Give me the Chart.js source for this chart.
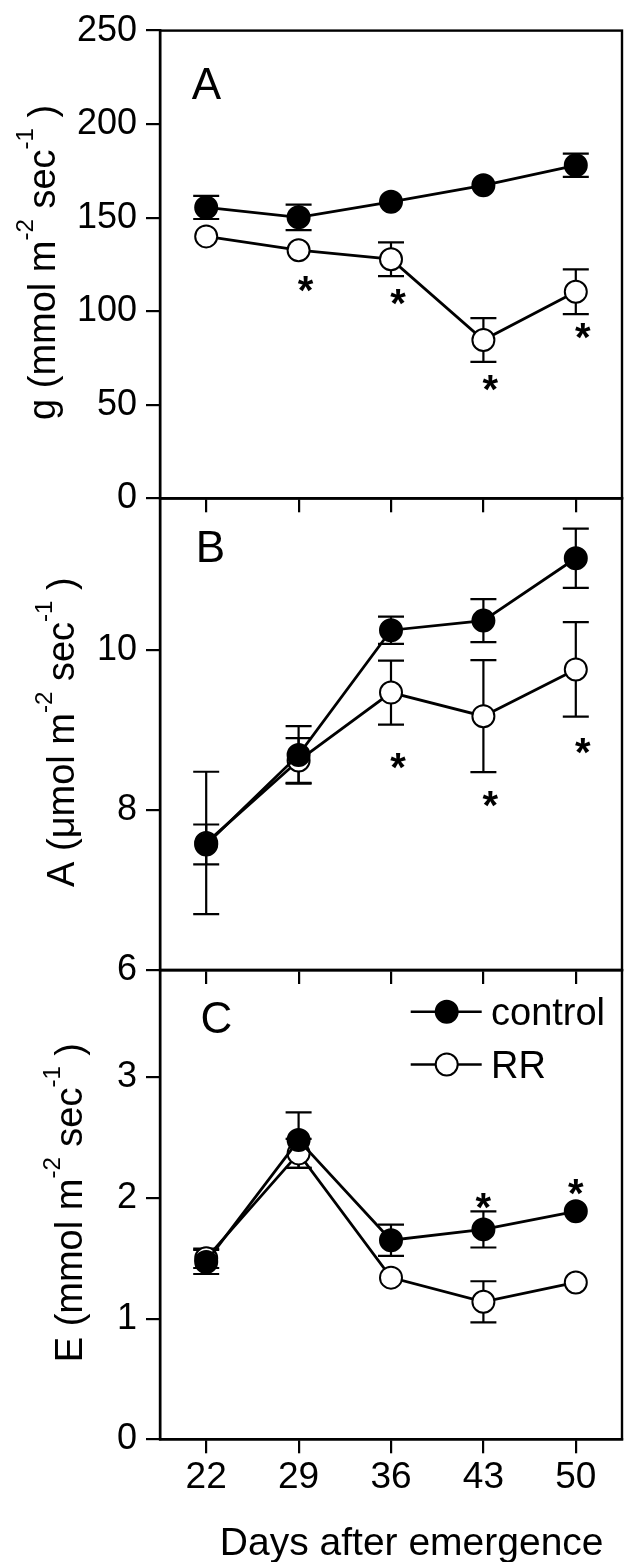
<!DOCTYPE html>
<html><head><meta charset="utf-8">
<script src="https://cdn.jsdelivr.net/npm/chart.js@4.4.0/dist/chart.umd.min.js"></script>
<style>
html,body{margin:0;padding:0;background:#fff;}
#wrap{position:relative;width:635px;height:1562px;background:#fff;}
canvas{position:absolute;left:0;top:0;}
</style></head><body>
<div id="wrap">
<canvas id="cA" width="635" height="1562"></canvas>
<canvas id="cB" width="635" height="1562"></canvas>
<canvas id="cC" width="635" height="1562"></canvas>
</div>
<script>
// ---------- data ----------
const days = [22, 29, 36, 43, 50];
const seriesNames = ['control', 'RR'];
const xTitle = 'Days after emergence';

// Panel A: stomatal conductance g
const gControl    = [155.5, 150.2, 158.5, 167.3, 178.0];
const gControlErr = [6.2, 6.8, 0, 0, 6.2];
const gRR         = [140.0, 132.6, 127.8, 84.6, 110.4];
const gRRErr      = [0, 0, 9.0, 11.7, 12.0];
const gSig        = [null, 115, 108, 62, 90];
const gTicks      = [0, 50, 100, 150, 200, 250];

// Panel B: assimilation A
const aControl    = [7.57, 8.69, 10.25, 10.37, 11.15];
const aControlErr = [0.25, 0.36, 0.17, 0.27, 0.37];
const aRR         = [7.59, 8.62, 9.47, 9.175, 9.76];
const aRRErr      = [0.89, 0.28, 0.40, 0.70, 0.59];
const aSig        = [null, null, 8.63, 8.15, 8.81];
const aTicks      = [6, 8, 10];

// Panel C: transpiration E
const eControl    = [1.47, 2.48, 1.65, 1.74, 1.89];
const eControlErr = [0.10, 0.23, 0.13, 0.15, 0];
const eRR         = [1.50, 2.37, 1.34, 1.14, 1.30];
const eRRErr      = [0.08, 0.12, 0, 0.17, 0];
const eSig        = [null, null, null, 1.98, 2.10];
const eTicks      = [0, 1, 2, 3];

// ---------- layout / style ----------
const FONT = '"Liberation Sans", Arial, Helvetica, sans-serif';
const W = 635, H = 1562, PLOT_L = 160, PLOT_R = 631, TICK = 14, CAP = 13, PR = 11;

const panels = [
  { id:'cA', letter:'A', letterX:191.7, letterDy:68.3, top:26.7, bottom:498.3, min:0, max:250, ticks:gTicks,
    ctrl:gControl, ctrlErr:gControlErr, rr:gRR, rrErr:gRRErr, sig:gSig, sigDx:7, showX:false, xh:TICK,
    titleX:55, title:[['g (mmol m',0],['-2',1],[' sec',0],['-1',1],[' )',0]] },
  { id:'cB', letter:'B', letterX:195.8, letterDy:63.4, top:498.3, bottom:970, min:6, max:11.9, ticks:aTicks,
    ctrl:aControl, ctrlErr:aControlErr, rr:aRR, rrErr:aRRErr, sig:aSig, sigDx:7, showX:false, xh:TICK,
    titleX:74, title:[['A (\u03BCmol m',0],['-2',1],[' sec',0],['-1',1],[' )',0]] },
  { id:'cC', letter:'C', letterX:200.6, letterDy:62.5, top:970, bottom:1439.3, min:0, max:3.89, ticks:eTicks,
    ctrl:eControl, ctrlErr:eControlErr, rr:eRR, rrErr:eRRErr, sig:eSig, sigDx:0, showX:true, xh:80, legend:true,
    titleX:82, title:[['E (mmol m',0],['-2',1],[' sec',0],['-1',1],[' )',0]] }
];

function drawCircle(ctx, x, y, filled) {
  ctx.beginPath(); ctx.arc(x, y, PR, 0, Math.PI*2);
  ctx.fillStyle = filled ? '#000' : '#fff'; ctx.fill();
  ctx.lineWidth = 2; ctx.strokeStyle = '#000'; ctx.stroke();
}

function makeDecor(p) {
  return {
    id: 'decor' + p.letter,
    beforeDatasetsDraw(chart) {
      const { ctx, scales: { x, y } } = chart;
      ctx.save();
      ctx.strokeStyle = '#000'; ctx.lineWidth = 2.2;
      [[p.ctrl, p.ctrlErr], [p.rr, p.rrErr]].forEach(([vals, errs]) => {
        vals.forEach((v, i) => {
          const e = errs[i]; if (!e) return;
          const px = x.getPixelForValue(days[i]);
          const y1 = y.getPixelForValue(v + e), y2 = y.getPixelForValue(v - e);
          ctx.beginPath();
          ctx.moveTo(px, y1); ctx.lineTo(px, y2);
          ctx.moveTo(px - CAP, y1); ctx.lineTo(px + CAP, y1);
          ctx.moveTo(px - CAP, y2); ctx.lineTo(px + CAP, y2);
          ctx.stroke();
        });
      });
      ctx.restore();
    },
    afterDraw(chart) {
      const { ctx, chartArea: a, scales: { x, y } } = chart;
      ctx.save();
      // frame
      ctx.strokeStyle = '#000'; ctx.lineWidth = 2.4;
      ctx.strokeRect(a.left, a.top, a.right - a.left, a.bottom - a.top);
      ctx.fillStyle = '#000';
      // panel letter
      ctx.font = '44px ' + FONT; ctx.textAlign = 'left'; ctx.textBaseline = 'alphabetic';
      ctx.fillText(p.letter, p.letterX, a.top + p.letterDy);
      // significance asterisks
      ctx.font = 'bold 40px ' + FONT; ctx.textAlign = 'center';
      p.sig.forEach((v, i) => {
        if (v == null) return;
        const px = x.getPixelForValue(days[i]) + p.sigDx;
        const py = y.getPixelForValue(v);
        ctx.fillText('*', px, py + 21);
      });
      // y title (rotated, with superscripts)
      const mainF = '38px ' + FONT, supF = '24px ' + FONT;
      let total = 0;
      p.title.forEach(([t, s]) => { ctx.font = s ? supF : mainF; total += ctx.measureText(t).width; });
      ctx.translate(p.titleX, (a.top + a.bottom) / 2 - 2);
      ctx.rotate(-Math.PI / 2);
      ctx.textAlign = 'left';
      let pos = -total / 2;
      p.title.forEach(([t, s]) => {
        ctx.font = s ? supF : mainF;
        ctx.fillText(t, pos, s ? -22 : 0);
        pos += ctx.measureText(t).width;
      });
      ctx.restore();
      if (p.legend) {
        ctx.save();
        const rows = [[1011.7, true, seriesNames[0]], [1064.5, false, seriesNames[1]]];
        rows.forEach(([ry, filled, label]) => {
          ctx.strokeStyle = '#000'; ctx.lineWidth = 2.6;
          ctx.beginPath(); ctx.moveTo(410.7, ry); ctx.lineTo(481.7, ry); ctx.stroke();
          drawCircle(ctx, 446.7, ry, filled);
          ctx.fillStyle = '#000'; ctx.font = '38px ' + FONT;
          ctx.textAlign = 'left'; ctx.textBaseline = 'alphabetic';
          ctx.fillText(label, 491, ry + 13);
        });
        ctx.font = '39px ' + FONT; ctx.textAlign = 'center';
        ctx.fillText(xTitle, 411.7, 1555);
        ctx.restore();
      }
    }
  };
}

panels.forEach(p => {
  const ctxEl = document.getElementById(p.id);
  new Chart(ctxEl, {
    type: 'line',
    data: {
      datasets: [
        { label: seriesNames[0], data: p.ctrl.map((v, i) => ({ x: days[i], y: v })),
          borderColor: '#000', borderWidth: 2.8, pointRadius: PR, pointBorderWidth: 2,
          pointBackgroundColor: '#000', pointBorderColor: '#000', tension: 0, clip: false },
        { label: seriesNames[1], data: p.rr.map((v, i) => ({ x: days[i], y: v })),
          borderColor: '#000', borderWidth: 2.8, pointRadius: PR, pointBorderWidth: 2,
          pointBackgroundColor: '#fff', pointBorderColor: '#000', tension: 0, clip: false }
      ]
    },
    options: {
      responsive: false, animation: false, events: [],
      layout: { padding: { left: 0, right: W - PLOT_R, top: p.top, bottom: H - p.bottom - p.xh } },
      plugins: { legend: { display: false }, tooltip: { enabled: false } },
      scales: {
        x: {
          type: 'linear', min: 18.5, max: 53.5,
          afterBuildTicks: s => { s.ticks = days.map(v => ({ value: v })); },
          afterFit: s => { s.height = p.xh; },
          grid: { drawOnChartArea: false, drawTicks: true, tickLength: TICK, color: '#000', lineWidth: 2.2 },
          border: { display: true, color: '#000', width: 2.4 },
          ticks: { display: p.showX, color: '#000', padding: 2, maxRotation: 0, autoSkip: false,
                   font: { family: FONT, size: 37 }, callback: v => String(v) }
        },
        y: {
          type: 'linear', min: p.min, max: p.max,
          afterBuildTicks: s => { s.ticks = p.ticks.map(v => ({ value: v })); },
          afterFit: s => { s.width = PLOT_L; },
          grid: { drawOnChartArea: false, drawTicks: true, tickLength: TICK, color: '#000', lineWidth: 2.2 },
          border: { display: true, color: '#000', width: 2.4 },
          ticks: { color: '#000', padding: 9, font: { family: FONT, size: 36 }, callback: v => String(v) }
        }
      }
    },
    plugins: [makeDecor(p)]
  });
});
</script>
</body></html>
